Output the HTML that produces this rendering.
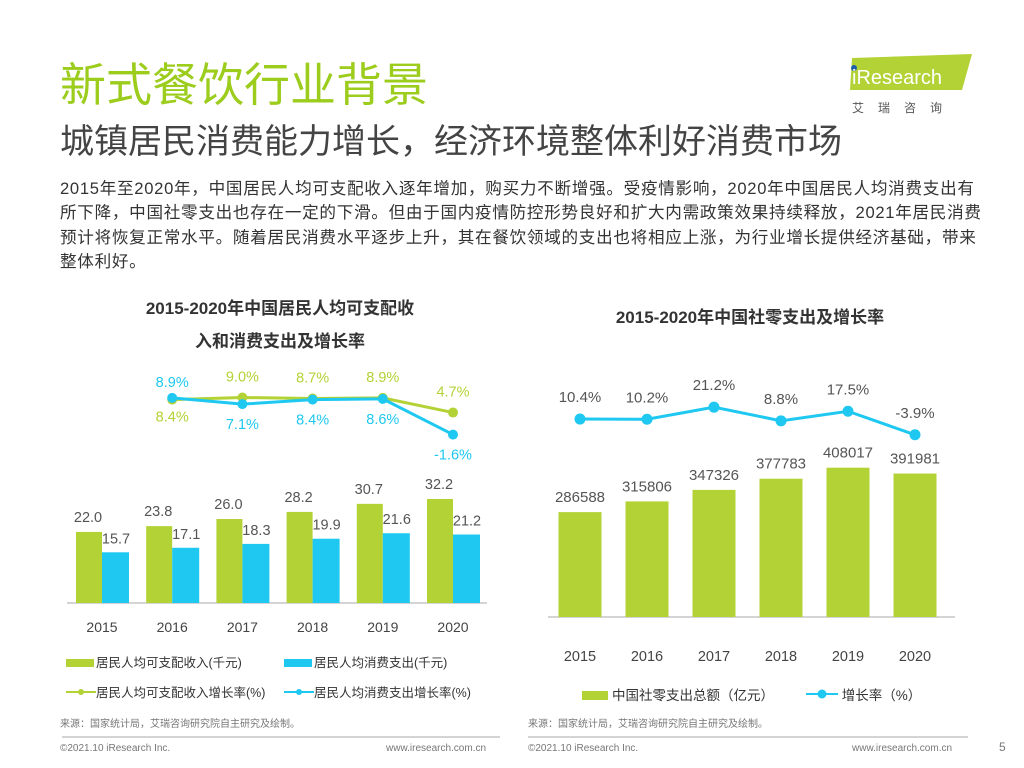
<!DOCTYPE html>
<html><head><meta charset="utf-8"><style>
body{margin:0;width:1024px;height:768px;background:#fff;overflow:hidden;font-family:"Liberation Sans","Noto Sans CJK SC",sans-serif;position:relative}
.a{position:absolute;white-space:nowrap}
svg text{font-family:"Liberation Sans","Noto Sans CJK SC",sans-serif}
</style></head><body>
<div class="a" style="left:60px;top:57px;font-size:46px;color:#9ccc1c;line-height:56px">新式餐饮行业背景</div>
<div class="a" style="left:60px;top:120px;font-size:34px;color:#444;line-height:44px">城镇居民消费能力增长，经济环境整体利好消费市场</div>
<div class="a" style="left:60px;top:177px;font-size:16.6px;letter-spacing:0.7px;color:#333;line-height:24.3px">2015年至2020年，中国居民人均可支配收入逐年增加，购买力不断增强。受疫情影响，2020年中国居民人均消费支出有<br>所下降，中国社零支出也存在一定的下滑。但由于国内疫情防控形势良好和扩大内需政策效果持续释放，2021年居民消费<br>预计将恢复正常水平。随着居民消费水平逐步上升，其在餐饮领域的支出也将相应上涨，为行业增长提供经济基础，带来<br>整体利好。</div>
<svg class="a" style="left:840px;top:50px" width="140" height="70">
<polygon points="12,8 132,4 122,40 10,40" fill="#b3d235"/>
<circle cx="14" cy="18" r="3" fill="#1f5fa8"/>
<text x="12" y="34" font-size="20" fill="#fff">iResearch</text>
<text x="12" y="62" font-size="12" fill="#555" letter-spacing="14">艾瑞咨询</text>
</svg>

<div class="a" style="left:60px;top:292px;width:440px;text-align:center;white-space:normal;font-size:17px;font-weight:bold;color:#333;line-height:33px">2015-2020年中国居民人均可支配收<br>入和消费支出及增长率</div>
<div class="a" style="left:540px;top:305px;width:420px;text-align:center;font-size:17px;font-weight:bold;color:#333;line-height:26px">2015-2020年中国社零支出及增长率</div>

<svg class="a" style="left:0;top:0" width="1024" height="768">
<g id="L"></g>
<g id="R"></g>
<line x1="62" y1="737" x2="500" y2="737" stroke="#aaa"/>
<line x1="528" y1="737" x2="968" y2="737" stroke="#aaa"/>
</svg>

<div class="a" style="left:66px;top:652px;font-size:12.5px;color:#333"><span style="display:inline-block;width:28px;height:8px;background:#b3d235;margin-right:2px"></span>居民人均可支配收入(千元)</div>
<div class="a" style="left:284px;top:652px;font-size:12.5px;color:#333"><span style="display:inline-block;width:28px;height:8px;background:#1fc8f0;margin-right:2px"></span>居民人均消费支出(千元)</div>
<div class="a" style="left:66px;top:682px;font-size:12.5px;color:#333"><svg width="30" height="10"><line x1="0" y1="5" x2="30" y2="5" stroke="#b3d235" stroke-width="2"/><circle cx="15" cy="5" r="3" fill="#b3d235"/></svg>居民人均可支配收入增长率(%)</div>
<div class="a" style="left:284px;top:682px;font-size:12.5px;color:#333"><svg width="30" height="10"><line x1="0" y1="5" x2="30" y2="5" stroke="#1fc8f0" stroke-width="2"/><circle cx="15" cy="5" r="3" fill="#1fc8f0"/></svg>居民人均消费支出增长率(%)</div>
<div class="a" style="left:582px;top:684px;font-size:13.5px;color:#333"><span style="display:inline-block;width:26px;height:9px;background:#b3d235;margin-right:4px"></span>中国社零支出总额（亿元）</div>
<div class="a" style="left:806px;top:684px;font-size:13.5px;color:#333"><svg width="32" height="12"><line x1="0" y1="6" x2="32" y2="6" stroke="#1fc8f0" stroke-width="2"/><circle cx="16" cy="6" r="4.5" fill="#1fc8f0"/></svg> 增长率（%）</div>
<div class="a" style="left:60px;top:715px;font-size:10px;color:#777">来源：国家统计局，艾瑞咨询研究院自主研究及绘制。</div>
<div class="a" style="left:528px;top:715px;font-size:10px;color:#777">来源：国家统计局，艾瑞咨询研究院自主研究及绘制。</div>
<div class="a" style="left:60px;top:743px;font-size:10px;color:#777">©2021.10 iResearch Inc.</div>
<div class="a" style="left:386px;top:743px;font-size:10px;color:#777">www.iresearch.com.cn</div>
<div class="a" style="left:528px;top:743px;font-size:10px;color:#777">©2021.10 iResearch Inc.</div>
<div class="a" style="left:852px;top:743px;font-size:10px;color:#777">www.iresearch.com.cn</div>
<div class="a" style="left:999px;top:740px;font-size:12px;color:#777">5</div>

<script>
const years=["2015","2016","2017","2018","2019","2020"];
const income=[22.0,23.8,26.0,28.2,30.7,32.2];
const spend=[15.7,17.1,18.3,19.9,21.6,21.2];
const rateYears=["2016","2017","2018","2019","2020"];
const incomeRate=[8.4,9.0,8.7,8.9,4.7];
const spendRate=[8.9,7.1,8.4,8.6,-1.6];
const retail=[286588,315806,347326,377783,408017,391981];
const retailRate=[10.4,10.2,21.2,8.8,17.5,-3.9];
const NS="http://www.w3.org/2000/svg";
function mk(p,t,a,txt){const e=document.createElementNS(NS,t);for(const k in a)e.setAttribute(k,a[k]);if(txt!==undefined)e.textContent=txt;p.appendChild(e);return e;}
const G="#b3d235",B="#1fc8f0";
const L=document.getElementById('L');
const lx=i=>102+i*70.2, ly=v=>603-v*3.23, lr=v=>429-v*3.5;
mk(L,'line',{x1:67,y1:603,x2:487,y2:603,stroke:'#aaa'});
years.forEach((y,i)=>{
 let r=mk(L,'rect',{x:lx(i)-26,y:ly(income[i]),width:26,height:603-ly(income[i]),fill:G});
 
 r=mk(L,'rect',{x:lx(i),y:ly(spend[i]),width:27,height:603-ly(spend[i]),fill:B});
 
 mk(L,'text',{x:lx(i)-14,y:ly(income[i])-10,'font-size':14.5,fill:'#555','text-anchor':'middle'},income[i].toFixed(1));
 mk(L,'text',{x:lx(i)+14,y:ly(spend[i])-9,'font-size':14.5,fill:'#555','text-anchor':'middle'},spend[i].toFixed(1));
 mk(L,'text',{x:lx(i),y:632,'font-size':14,fill:'#444','text-anchor':'middle'},y);
});
const rx=i=>lx(i+1);
let p=mk(L,'polyline',{points:incomeRate.map((v,i)=>rx(i)+','+lr(v)).join(' '),fill:'none',stroke:G,'stroke-width':3});

p=mk(L,'polyline',{points:spendRate.map((v,i)=>rx(i)+','+lr(v)).join(' '),fill:'none',stroke:B,'stroke-width':3});

incomeRate.forEach((v,i)=>{mk(L,'circle',{cx:rx(i),cy:lr(v),r:5,fill:G});
 const above=i>0;mk(L,'text',{x:rx(i),y:above?lr(v)-16:lr(v)+22,'font-size':14.5,fill:G,'text-anchor':'middle'},v.toFixed(1)+'%');});
spendRate.forEach((v,i)=>{mk(L,'circle',{cx:rx(i),cy:lr(v),r:5,fill:B});
 const above=i==0;mk(L,'text',{x:rx(i),y:above?lr(v)-11:lr(v)+25,'font-size':14.5,fill:B,'text-anchor':'middle'},v.toFixed(1)+'%');});
const R=document.getElementById('R');
const qx=i=>580+i*67, qy=v=>617-v*0.000366, qr=v=>430.5-v*1.1;
mk(R,'line',{x1:548,y1:617,x2:955,y2:617,stroke:'#aaa'});
years.forEach((y,i)=>{
 const r=mk(R,'rect',{x:qx(i)-21.5,y:qy(retail[i]),width:43,height:617-qy(retail[i]),fill:G});
 
 mk(R,'text',{x:qx(i),y:qy(retail[i])-10,'font-size':15,fill:'#555','text-anchor':'middle'},retail[i]);
 mk(R,'text',{x:qx(i),y:661,'font-size':14.5,fill:'#444','text-anchor':'middle'},y);
});
p=mk(R,'polyline',{points:retailRate.map((v,i)=>qx(i)+','+qr(v)).join(' '),fill:'none',stroke:B,'stroke-width':3});

retailRate.forEach((v,i)=>{mk(R,'circle',{cx:qx(i),cy:qr(v),r:5.5,fill:B});
 mk(R,'text',{x:qx(i),y:qr(v)-17,'font-size':15,fill:'#555','text-anchor':'middle'},v.toFixed(1)+'%');});
</script>
</body></html>
